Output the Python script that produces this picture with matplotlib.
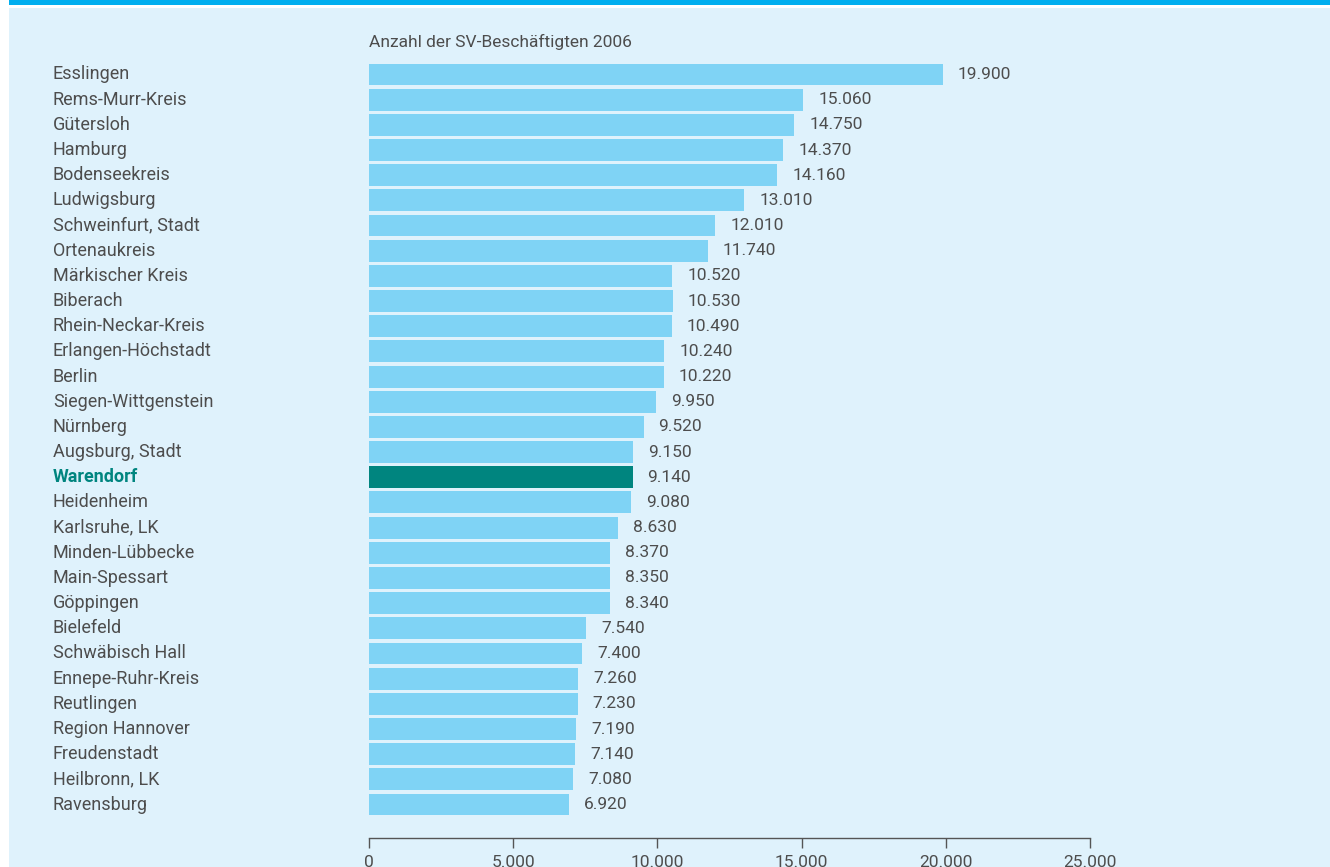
import matplotlib.pyplot as plt
import matplotlib.patches as mpatches
from matplotlib.transforms import blended_transform_factory

regions = ['Esslingen', 'Rems-Murr-Kreis', 'Gütersloh', 'Hamburg', 'Bodenseekreis',
           'Ludwigsburg', 'Schweinfurt, Stadt', 'Ortenaukreis', 'Märkischer Kreis',
           'Biberach', 'Rhein-Neckar-Kreis', 'Erlangen-Höchstadt', 'Berlin',
           'Siegen-Wittgenstein', 'Nürnberg', 'Augsburg, Stadt', 'Warendorf',
           'Heidenheim', 'Karlsruhe, LK', 'Minden-Lübbecke', 'Main-Spessart',
           'Göppingen', 'Bielefeld', 'Schwäbisch Hall', 'Ennepe-Ruhr-Kreis',
           'Reutlingen', 'Region Hannover', 'Freudenstadt', 'Heilbronn, LK',
           'Ravensburg']
employees = [19900, 15060, 14750, 14370, 14160, 13010, 12010, 11740, 10520,
             10530, 10490, 10240, 10220, 9950, 9520, 9150, 9140, 9080, 8630,
             8370, 8350, 8340, 7540, 7400, 7260, 7230, 7190, 7140, 7080, 6920]
highlight = 'Warendorf'
xticks = [0, 5000, 10000, 15000, 20000, 25000]

BG = '#dff2fc'
BAR = '#7fd3f5'
HL = '#00857f'
TXT = '#4d4d4d'
W, H = 1330, 867

plt.rcParams['font.family'] = ['Roboto', 'DejaVu Sans']


def de_num(v):
    return f'{v:,}'.replace(',', '.')


fig = plt.figure(figsize=(W / 100, H / 100), dpi=100)
fig.patch.set_facecolor('white')
# light panel, blue top band
fig.patches.append(mpatches.Rectangle((9 / W, 0), 1, 1 - 7.5 / H, transform=fig.transFigure,
                                      facecolor=BG, edgecolor='none', zorder=-2))
fig.patches.append(mpatches.Rectangle((9 / W, 1 - 5 / H), 1, 5 / H, transform=fig.transFigure,
                                      facecolor='#00aeef', edgecolor='none', zorder=-1))

ax = fig.add_axes([369 / W, 1 - 838 / H, (1090 - 369) / W, (838 - 60.4) / H])
ax.set_facecolor('none')

ypos = list(range(len(regions)))
colors = [HL if r == highlight else BAR for r in regions]
ax.barh(ypos, employees, height=0.87, color=colors, edgecolor='none')

ax.set_xlim(0, 25000)
ax.set_ylim(30.33, -0.56)

for y, v in zip(ypos, employees):
    ax.annotate(de_num(v), xy=(v, y), xytext=(10.8, 0), textcoords='offset points',
                ha='left', va='center', fontsize=12.5, color=TXT)

trans = blended_transform_factory(fig.transFigure, ax.transData)
for y, r in zip(ypos, regions):
    hl = r == highlight
    ax.text(53 / W, y, r, transform=trans, ha='left', va='center', fontsize=13,
            color=HL if hl else TXT, fontweight='bold' if hl else 'normal')

fig.text(369 / W, 1 - 41.5 / H, 'Anzahl der SV-Beschäftigten 2006', ha='left', va='center',
         fontsize=12.5, color=TXT)

for s in ['top', 'right', 'left']:
    ax.spines[s].set_visible(False)
ax.spines['bottom'].set_color('#555555')
ax.spines['bottom'].set_linewidth(1)
ax.set_yticks([])
ax.set_xticks(xticks)
ax.set_xticklabels([de_num(t) for t in xticks])
ax.tick_params(axis='x', direction='out', length=7.5, width=1, color='#555555',
               labelsize=12.5, labelcolor=TXT, pad=5)

fig.savefig('out.png', dpi=100, facecolor=fig.get_facecolor())
